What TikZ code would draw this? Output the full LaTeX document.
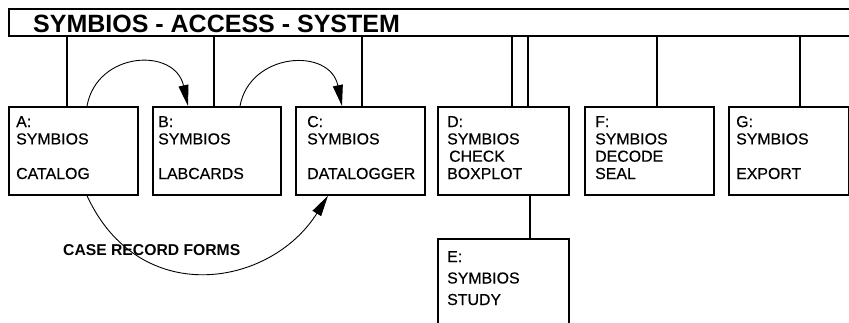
\documentclass[tikz,border=0pt]{standalone}
\usepackage{fontspec}
\setmainfont{Liberation Sans}
\newfontfamily\boxfont[FakeBold=0.4]{Liberation Sans}
\usetikzlibrary{arrows.meta}
\begin{document}
\begin{tikzpicture}[x=1pt,y=-1pt,
  frame/.style={draw, line width=1.7pt, anchor=north west, inner sep=0pt},
  modbox/.style={frame, minimum width=#1, minimum height=88},
  boxtext/.style={anchor=base west, inner sep=0pt, align=left,
    font=\boxfont\fontsize{15.9}{17.3}\selectfont},
  link/.style={line width=1.7pt},
  flow/.style={line width=0.9pt, -{Triangle[length=21pt,width=10pt]}},
  heading/.style={anchor=base west, inner sep=0pt,
    font=\bfseries\fontsize{25}{28}\selectfont},
  flowlabel/.style={anchor=base west, inner sep=0pt,
    font=\bfseries\fontsize{15.7}{17}\selectfont}]
\useasboundingbox (0,0) rectangle (849,322);
\clip (0,0) rectangle (849,322);

% system bar (runs off the right edge)
\node[frame, minimum width=860, minimum height=27] (title) at (8,8) {};
\node[heading] (titletext) at (33,32) {SYMBIOS - ACCESS - SYSTEM};

% module boxes
\node[modbox=129] (a) at (8,106) {};
\node[modbox=128] (b) at (152,106) {};
\node[modbox=129] (c) at (295,106) {};
\node[modbox=131] (d) at (437,106) {};
\node[modbox=129] (f) at (584,106) {};
\node[modbox=120] (g) at (728,106) {};
\node[frame, minimum width=131, minimum height=100] (e) at (437,238) {};

% box captions (anchored at the baseline of the last line)
\node[boxtext] (atext) at (16,179) {A:\\SYMBIOS\\[17.3pt]CATALOG};
\node[boxtext] (btext) at (158,179) {B:\\SYMBIOS\\[17.3pt]LABCARDS};
\node[boxtext] (ctext) at (307,179) {C:\\SYMBIOS\\[17.3pt]DATALOGGER};
\node[boxtext] (dtext) at (447,179) {D:\\SYMBIOS\\\hspace{2pt}CHECK\\BOXPLOT};
\node[boxtext] (ftext) at (595,179) {F:\\SYMBIOS\\DECODE\\SEAL};
\node[boxtext] (gtext) at (736,179) {G:\\SYMBIOS\\[17.3pt]EXPORT};
\node[boxtext] (etext) at (447,305) {E:\\[4.2pt]SYMBIOS\\[4.2pt]STUDY};

% links from the system bar
\draw[link] ([xshift=59]a.north west) -- ([xshift=59]a.north west |- title.south);
\draw[link] ([xshift=62]b.north west) -- ([xshift=62]b.north west |- title.south);
\draw[link] ([xshift=67]c.north west) -- ([xshift=67]c.north west |- title.south);
\draw[link] ([xshift=75]d.north west) -- ([xshift=75]d.north west |- title.south);
\draw[link] ([xshift=91]d.north west) -- ([xshift=91]d.north west |- title.south);
\draw[link] ([xshift=73]f.north west) -- ([xshift=73]f.north west |- title.south);
\draw[link] ([xshift=72]g.north west) -- ([xshift=72]g.north west |- title.south);
\draw[link] ([xshift=93]d.south west) -- ([xshift=93]e.north west);

% data flow between modules
\draw[flow] ([xshift=79]a.north west) .. controls +(10,-55) and +(-13,-59) .. ([xshift=36]b.north west);
\draw[flow] ([xshift=88]b.north west) .. controls +(10,-54) and +(-12,-59) .. ([xshift=47]c.north west);
\draw[flow] ([xshift=79]a.south west) .. controls +(52,113) and +(-58,92) .. ([xshift=33]c.south west);
\node[flowlabel] (forms) at (63,255) {CASE RECORD FORMS};
\end{tikzpicture}
\end{document}
